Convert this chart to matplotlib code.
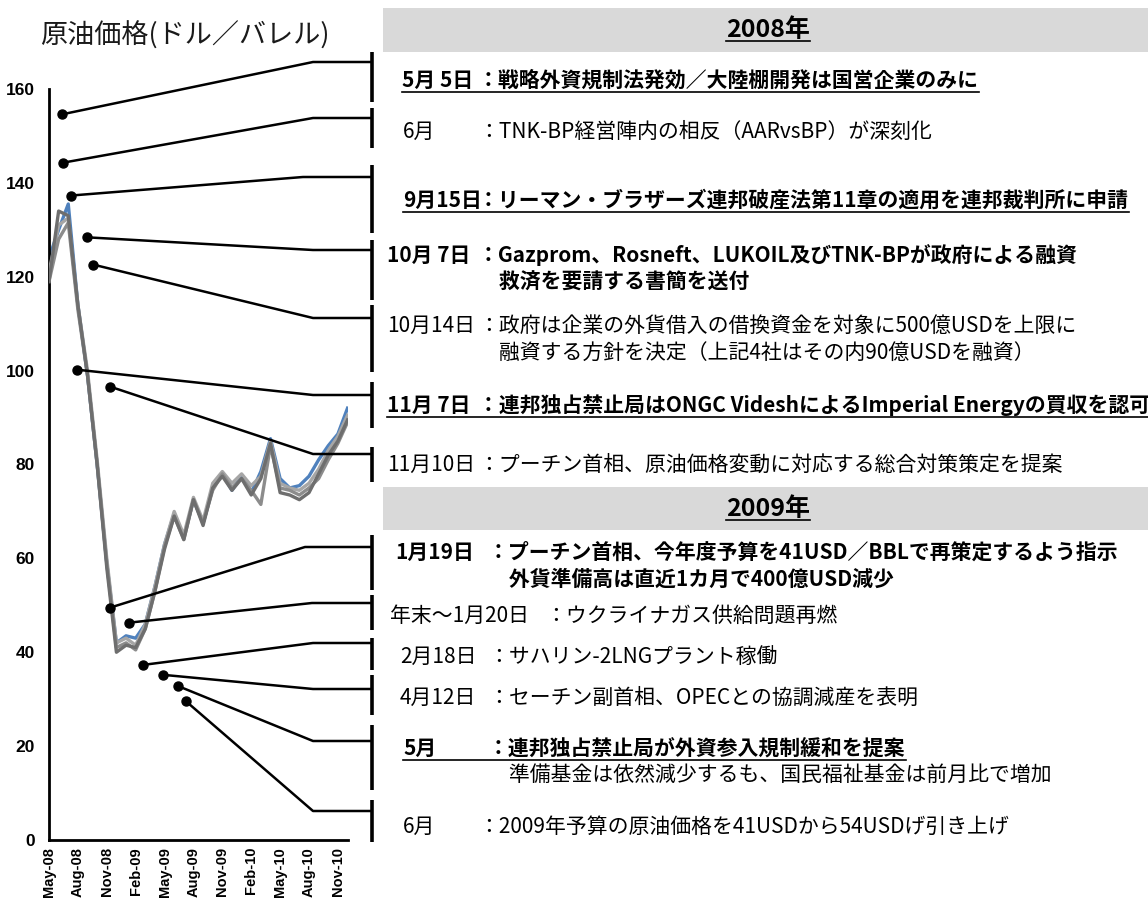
import matplotlib
matplotlib.use('Agg')
import matplotlib.pyplot as plt
import pandas as pd
from matplotlib.patches import Rectangle

plt.rcParams['font.family'] = ['Noto Sans CJK JP', 'DejaVu Sans']

# monthly crude prices, May-08 .. Dec-10
months = pd.date_range('2008-05-01', '2010-12-01', freq='MS')
urals = [124, 130, 135.5, 114, 99, 80, 59, 42, 43.5, 43, 46, 54, 63, 69.5, 64.5, 72.5,
         67.5, 75, 78, 74.5, 77.5, 74, 78.5, 85.5, 77, 75, 75.5, 77.5, 81, 84, 86.5, 92]
brent = [119, 134, 133, 114, 99, 80, 58, 40, 41.5, 41, 45, 53, 62, 69, 64, 72.5,
         67, 75, 77.5, 74.5, 77, 73.5, 77, 84.5, 74, 73.5, 72.5, 74, 78, 82, 85, 89.5]
wti = [119, 128, 131.5, 113, 99, 80, 59, 41, 42, 40.5, 45, 53, 62.5, 69, 64, 72.5,
       67.5, 74.5, 78, 75, 77, 74.5, 71.5, 84, 75, 74.5, 73.5, 75, 77, 81, 84.5, 89]
dubai = [121, 131, 132.5, 114, 100, 81, 60, 42, 43, 41.5, 46, 54, 63, 70, 65, 73,
         68, 76, 78.5, 76, 78, 75.5, 77.5, 85, 76, 75, 74.5, 76, 79, 83, 86, 90.5]
tick_labels = [m.strftime('%b-%y') for m in months[::3]]

title = '原油価格(ドル／バレル)'
year_headers = ['2008年', '2009年']

event_dates = ['5月 5日', '6月', '9月15日', '10月 7日', '10月14日', '11月 7日', '11月10日',
               '1月19日', '年末～1月20日', '2月18日', '4月12日', '5月', '6月']
event_texts = [
    '：戦略外資規制法発効／大陸棚開発は国営企業のみに',
    '：TNK-BP経営陣内の相反（AARvsBP）が深刻化',
    '：リーマン・ブラザーズ連邦破産法第11章の適用を連邦裁判所に申請',
    '：Gazprom、Rosneft、LUKOIL及びTNK-BPが政府による融資\n\u3000救済を要請する書簡を送付',
    '：政府は企業の外貨借入の借換資金を対象に500億USDを上限に\n\u3000融資する方針を決定（上記4社はその内90億USDを融資）',
    '：連邦独占禁止局はONGC VideshによるImperial Energyの買収を認可',
    '：プーチン首相、原油価格変動に対応する総合対策策定を提案',
    '：プーチン首相、今年度予算を41USD／BBLで再策定するよう指示\n\u3000外貨準備高は直近1カ月で400億USD減少',
    '：ウクライナガス供給問題再燃',
    '：サハリン-2LNGプラント稼働',
    '：セーチン副首相、OPECとの協調減産を表明',
    '：連邦独占禁止局が外資参入規制緩和を提案\n\u3000準備基金は依然減少するも、国民福祉基金は前月比で増加',
    '：2009年予算の原油価格を41USDから54USDげ引き上げ',
]
# weight of first / second line, underline on first line
event_bold = [(1, 1), (0, 0), (1, 1), (1, 1), (0, 0), (1, 1), (0, 0),
              (1, 1), (0, 0), (0, 0), (0, 0), (1, 0), (0, 0)]
event_underline = [1, 0, 1, 0, 0, 1, 0, 0, 0, 0, 0, 1, 0]
# where each pointer touches the chart (month index, price)
anchor_month = [1.35, 1.45, 2.28, 3.95, 4.57, 2.91, 6.33, 6.33, 8.3, 9.76, 11.8, 13.4, 14.2]
anchor_price = [154.6, 144.3, 137.3, 128.4, 122.6, 100.2, 96.6, 49.5, 46.3, 37.3, 35.2, 32.8, 29.6]

# ---- layout (pixels) ----
W, H = 1148, 901
row_y = [80, 132, 200, 255, 326, 405, 465, 552, 616, 657, 698, 748, 827]
date_x = [402, 403, 403, 387, 387, 387, 387, 395, 390, 400, 400, 403, 403]
colon_x = [478, 478, 478, 478, 478, 478, 478, 488, 545, 488, 488, 488, 478]
link_y = [62, 118, 177, 250, 318, 395, 454, 547, 603, 643, 689, 741, 811]
elbow_x = [313, 313, 303, 313, 313, 313, 313, 305, 312, 313, 313, 313, 313]
bar_span = [(52, 102), (108, 148), (165, 233), (240, 300), (305, 372), (382, 428), (447, 482),
            (535, 590), (595, 630), (638, 670), (675, 715), (725, 790), (800, 842)]
bar_x = 372
header_y = [(8, 52), (487, 530)]
fs = 15

fig = plt.figure(figsize=(W / 100, H / 100), dpi=100)

ax = fig.add_axes([49 / W, 1 - 840 / H, (348 - 49) / W, (840 - 89) / H])
ax.patch.set_alpha(0)
x = range(len(months))
ax.plot(x, urals, color='#4f81bd', lw=2.4, zorder=2)
ax.plot(x, dubai, color='#a6a6a6', lw=2.4, zorder=3)
ax.plot(x, wti, color='#8c8c8c', lw=2.4, zorder=3)
ax.plot(x, brent, color='#6e6e6e', lw=2.4, zorder=3)
ax.set_xlim(0, 31.05)
ax.set_ylim(0, 160)
ax.set_yticks(range(0, 161, 20))
ax.set_xticks(range(0, len(months), 3))
ax.set_xticklabels(tick_labels, rotation=90)
for lab in ax.get_xticklabels():
    lab.set_family('Liberation Sans')
    lab.set_fontweight('bold')
    lab.set_fontsize(10.5)
for lab in ax.get_yticklabels():
    lab.set_family('Liberation Sans')
    lab.set_fontweight('bold')
    lab.set_fontsize(12.5)
ax.tick_params(axis='y', length=0, pad=10)
ax.tick_params(axis='x', length=0, pad=5)
for s in ['top', 'right']:
    ax.spines[s].set_visible(False)
for s in ['left', 'bottom']:
    ax.spines[s].set_linewidth(2)

# overlay in pixel coordinates
ov = fig.add_axes([0, 0, 1, 1])
ov.set_xlim(0, W)
ov.set_ylim(H, 0)
ov.axis('off')

ov.text(40, 36, title, fontsize=19.5, color='#1a1a1a', va='center', ha='left')

head_txt = []
for (y0, y1), hd in zip(header_y, year_headers):
    ov.add_patch(Rectangle((383, y0), W - 383, y1 - y0, color='#d9d9d9', lw=0))
    head_txt.append(ov.text(768, (y0 + y1) / 2, hd, fontsize=18, fontweight='bold',
                            ha='center', va='center'))

# pointers
for i in range(len(event_dates)):
    dx, dy = ax.transData.transform((anchor_month[i], anchor_price[i]))
    px, py = dx, H - dy
    ov.plot([px, elbow_x[i], bar_x], [py, link_y[i], link_y[i]], color='black', lw=1.8,
            solid_capstyle='butt')
    ov.plot([px], [py], 'o', color='black', ms=6.5)
    ov.plot([bar_x, bar_x], bar_span[i], color='black', lw=2.6, solid_capstyle='butt')

# event text
under = []
for i in range(len(event_dates)):
    lines = event_texts[i].split('\n')
    w1 = 'bold' if event_bold[i][0] else 'normal'
    td = ov.text(date_x[i], row_y[i], event_dates[i], fontsize=fs, fontweight=w1,
                 va='center', ha='left')
    tb = ov.text(colon_x[i], row_y[i], lines[0], fontsize=fs, fontweight=w1,
                 va='center', ha='left')
    if len(lines) > 1:
        w2 = 'bold' if event_bold[i][1] else 'normal'
        ov.text(colon_x[i], row_y[i] + 27, lines[1], fontsize=fs, fontweight=w2,
                va='center', ha='left')
    if event_underline[i]:
        under.append((td, tb, row_y[i] + 12))

fig.canvas.draw()
r = fig.canvas.get_renderer()
inv = ov.transData.inverted()
for td, tb, uy in under:
    x0 = inv.transform(td.get_window_extent(r).p0)[0]
    x1 = inv.transform(tb.get_window_extent(r).p1)[0]
    ov.plot([x0, x1], [uy, uy], color='black', lw=1.2)

for t in head_txt:
    bb = t.get_window_extent(r)
    a = inv.transform(bb.p0)
    b = inv.transform(bb.p1)
    ov.plot([a[0], b[0]], [a[1] - 1, a[1] - 1], color='black', lw=1.2)

fig.savefig('out.png', dpi=100)
